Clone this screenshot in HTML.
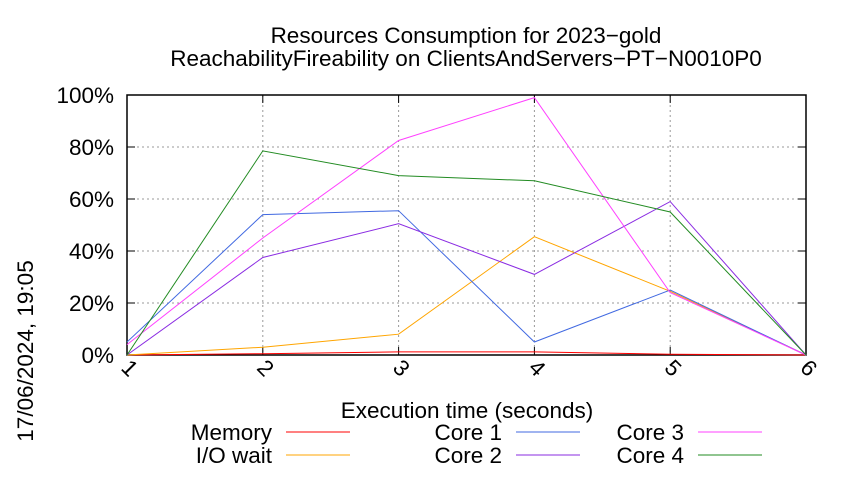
<!DOCTYPE html>
<html><head><meta charset="utf-8"><style>
body{margin:0;background:#fff;font-family:"Liberation Sans",sans-serif;}
svg text{font-family:"Liberation Sans",sans-serif;fill:#000;}
</style></head><body>
<svg width="850" height="475">
<text x="466" y="43" font-size="22.5" text-anchor="middle">Resources Consumption for 2023−gold</text>
<text x="466" y="66" font-size="22.5" text-anchor="middle">ReachabilityFireability on ClientsAndServers−PT−N0010P0</text>
<g id="grid"></g>
<g id="axes"></g>
<g id="series"></g>
<text x="467" y="418" font-size="22.5" text-anchor="middle">Execution time (seconds)</text>
<text transform="translate(33,351) rotate(-90)" font-size="22.5" text-anchor="middle">17/06/2024, 19:05</text>
<g id="legend"></g>
</svg>
<script>
const xValues=[1,2,3,4,5,6];
const yTicks=[0,20,40,60,80,100];
const seriesNames=["Memory","I/O wait","Core 1","Core 2","Core 3","Core 4"];
const seriesColors=["#ff0000","#ffa500","#4169e1","#8a2be2","#ff40ff","#228b22"];
const memory=[0,0.5,1.2,1.2,0.3,0];
const ioWait=[0,3,8,45.5,24.5,0];
const core1=[5,54,55.5,5,25,0];
const core2=[0,37.5,50.5,31,59,0];
const core3=[4,45,82.5,99,24,0];
const core4=[0,78.5,69,67,55,0];
const allSeries=[memory,ioWait,core1,core2,core3,core4];
const NS="http://www.w3.org/2000/svg";
const L=127,R=806,T=95,B=355;
const xs=v=>L+(v-1)*(R-L)/5;
const ys=v=>B-v*(B-T)/100;
function mk(tag,attrs,parent){const e=document.createElementNS(NS,tag);for(const k in attrs)e.setAttribute(k,attrs[k]);parent.appendChild(e);return e;}
const grid=document.getElementById('grid'),axes=document.getElementById('axes'),ser=document.getElementById('series'),leg=document.getElementById('legend');
yTicks.forEach(t=>{
 if(t>0&&t<100){const g=mk('line',{x1:L,x2:R,y1:ys(t),y2:ys(t),stroke:'#999','stroke-dasharray':'2,3','stroke-width':1},grid);
 
 }
 const tx=mk('text',{x:L-13,y:ys(t)+8,'font-size':22.5,'text-anchor':'end'},axes);tx.textContent=t+'%';
 
 
 mk('line',{x1:L,x2:L+8,y1:ys(t),y2:ys(t),stroke:'#000'},axes);
 mk('line',{x1:R,x2:R-8,y1:ys(t),y2:ys(t),stroke:'#000'},axes);
});
xValues.forEach(v=>{
 if(v>1&&v<6){const g=mk('line',{x1:xs(v),x2:xs(v),y1:T,y2:B,stroke:'#999','stroke-dasharray':'2,3'},grid);
 
 }
 mk('line',{x1:xs(v),x2:xs(v),y1:B,y2:B-8,stroke:'#000'},axes);
 mk('line',{x1:xs(v),x2:xs(v),y1:T,y2:T+8,stroke:'#000'},axes);
 const tx=mk('text',{transform:`translate(${xs(v)-7},${B+14}) rotate(45)`,'font-size':22.5},axes);tx.textContent=v;
 
 
});
const fr=mk('rect',{x:L,y:T,width:R-L,height:B-T,fill:'none',stroke:'#000','stroke-width':1.5},axes);


allSeries.forEach((d,i)=>{
 const p=mk('polyline',{points:d.map((v,j)=>xs(xValues[j])+','+ys(v)).join(' '),fill:'none',stroke:seriesColors[i],'stroke-width':1},ser);
 
 
});
const legPos=[[272,432],[272,455],[502,432],[502,455],[684,432],[684,455]];
seriesNames.forEach((n,i)=>{
 const [x,y]=legPos[i];
 const t=mk('text',{x:x,y:y+8,'font-size':22.5,'text-anchor':'end'},leg);t.textContent=n;
 
 
 const l=mk('line',{x1:x+14,x2:x+78,y1:y,y2:y,stroke:seriesColors[i]},leg);
 
 
});
</script>
</body></html>
